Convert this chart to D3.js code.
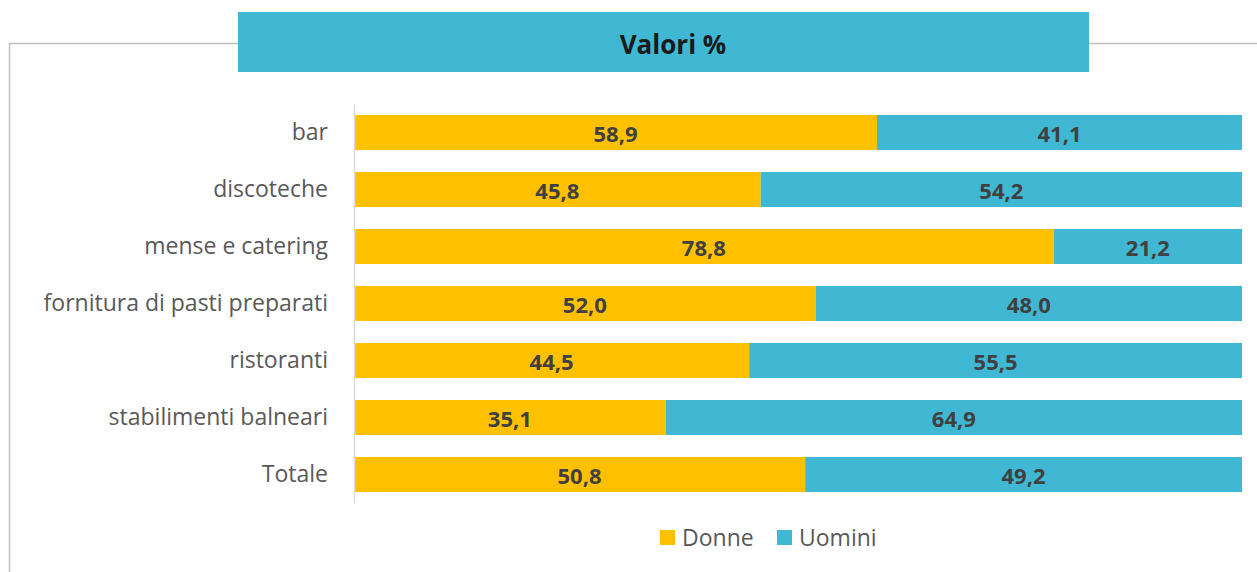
<!DOCTYPE html>
<html>
<head>
<meta charset="utf-8">
<script src="https://cdn.jsdelivr.net/npm/d3@7"></script>
<style>
  body { margin: 0; background: #fff; }
  svg { display: block; font-family: "Open Sans", sans-serif; }
</style>
</head>
<body>
<svg id="chart" width="1257" height="572"></svg>
<script>
// data
const categories = ['bar', 'discoteche', 'mense e catering', 'fornitura di pasti preparati',
  'ristoranti', 'stabilimenti balneari', 'Totale'];
const donne = [58.9, 45.8, 78.8, 52.0, 44.5, 35.1, 50.8];
const uomini = [41.1, 54.2, 21.2, 48.0, 55.5, 64.9, 49.2];
const seriesNames = ['Donne', 'Uomini'];
const seriesColors = ['#FFC000', '#41B8D3'];

const width = 1257, height = 572;
const svg = d3.select('#chart');

// outer frame (top + left lines)
svg.append('path')
  .attr('d', `M9.5,${height} V43.5 H${width}`)
  .attr('fill', 'none')
  .attr('stroke', '#BFBFBF')
  .attr('stroke-width', 1.5);

// title box
svg.append('rect')
  .attr('x', 238).attr('y', 12)
  .attr('width', 851).attr('height', 60)
  .attr('fill', '#41B8D3');
svg.append('text')
  .attr('x', 673).attr('y', 44)
  .attr('text-anchor', 'middle')
  .attr('dominant-baseline', 'central')
  .attr('font-size', 26).attr('font-weight', 'bold')
  .attr('fill', '#1a1a1a')
  .text('Valori %');

const x = d3.scaleLinear().domain([0, 100]).range([354, 1242]);
const y = d3.scaleBand().domain(categories).range([104, 503]).paddingInner(0.386).paddingOuter(0.193);

const rows = categories.map((c, i) => ({ cat: c, Donne: donne[i], Uomini: uomini[i] }));
const stacked = d3.stack().keys(seriesNames)(rows);

const g = svg.append('g');
stacked.forEach((s, si) => {
  g.selectAll(null)
    .data(s)
    .enter()
    .append('rect')
    .attr('x', d => x(d[0]))
    .attr('y', d => y(d.data.cat))
    .attr('width', d => x(d[1]) - x(d[0]))
    .attr('height', y.bandwidth())
    .attr('fill', seriesColors[si]);

  g.selectAll(null)
    .data(s)
    .enter()
    .append('text')
    .attr('x', d => (x(d[0]) + x(d[1])) / 2)
    .attr('y', d => y(d.data.cat) + y.bandwidth() / 2)
    .attr('text-anchor', 'middle')
    .attr('dominant-baseline', 'central')
    .attr('font-size', 22).attr('font-weight', 'bold')
    .attr('fill', '#404040')
    .text(d => d3.format('.1f')(d[1] - d[0]).replace('.', ','));
});

// y axis
const yAxis = svg.append('g')
  .attr('transform', 'translate(354,0)')
  .call(d3.axisLeft(y).tickSize(0).tickPadding(26));
yAxis.select('.domain').attr('stroke', '#D9D9D9').attr('stroke-width', 1.5);
yAxis.selectAll('text')
  .attr('font-size', 23)
  .attr('font-family', '"Open Sans", sans-serif')
  .attr('fill', '#595959');

// legend
const legend = svg.append('g');
const legendX = [660, 777];
seriesNames.forEach((n, i) => {
  legend.append('rect')
    .attr('x', legendX[i]).attr('y', 530)
    .attr('width', 15).attr('height', 15)
    .attr('fill', seriesColors[i]);
  legend.append('text')
    .attr('x', legendX[i] + 22).attr('y', 537)
    .attr('dominant-baseline', 'central')
    .attr('font-size', 23)
    .attr('fill', '#595959')
    .text(n);
});
</script>
</body>
</html>
